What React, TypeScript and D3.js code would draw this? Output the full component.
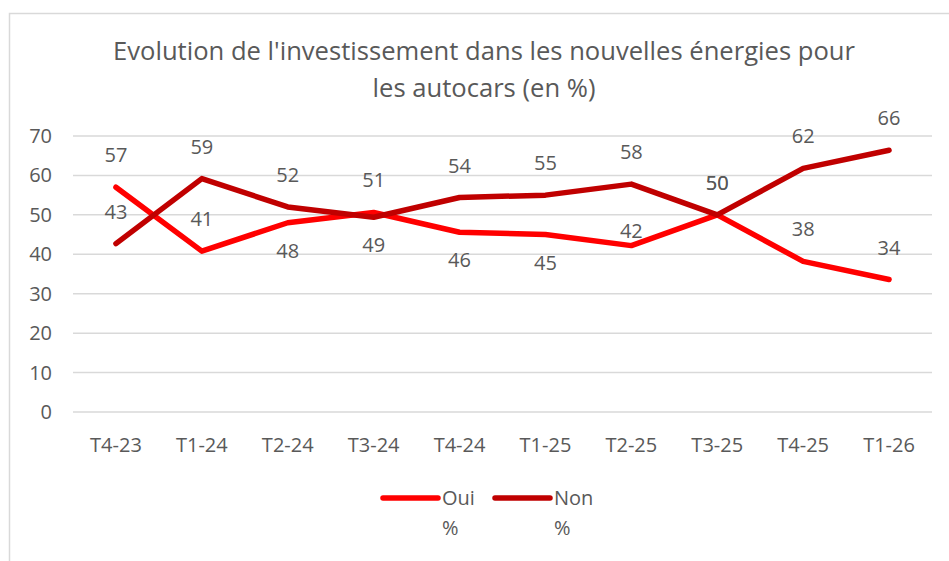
import { useEffect, useRef } from "react";
import * as d3 from "d3";

// quarters on the x axis
const quarters = ["T4-23", "T1-24", "T2-24", "T3-24", "T4-24", "T1-25", "T2-25", "T3-25", "T4-25", "T1-26"];
// series values in % (labels are rounded)
const oui = [57.0, 40.8, 48.0, 50.6, 45.6, 45.0, 42.2, 50.0, 38.2, 33.6];
const non = [42.7, 59.2, 52.0, 49.4, 54.4, 55.0, 57.8, 50.0, 61.8, 66.4];
// where each data label sits relative to its point
const ouiLabelPos = ["above", "above", "below", "above", "below", "below", "near", "above", "above", "above"];
const nonLabelPos = ["above", "above", "above", "below", "above", "above", "above", "above", "above", "above"];
const yTicks = [0, 10, 20, 30, 40, 50, 60, 70];
const titleLines = ["Evolution de l'investissement dans les nouvelles énergies pour", "les autocars (en %)"];

const FONT = "'Open Sans', sans-serif";
const TEXT = "#595959";
const GRID = "#d9d9d9";

const App = () => {
  const svgRef = useRef<SVGSVGElement | null>(null);

  useEffect(() => {
    drawChart();
  }, []);

  const drawChart = () => {
    const w = 949;
    const h = 561;
    const svg = d3.select(svgRef.current);
    svg.selectAll("*").remove();

    // chart frame (runs off the right and bottom edges)
    svg
      .append("rect")
      .attr("x", 9.5)
      .attr("y", 13.5)
      .attr("width", w)
      .attr("height", h)
      .attr("fill", "white")
      .attr("stroke", GRID)
      .attr("stroke-width", 1.5);

    // title
    svg
      .append("g")
      .selectAll("text")
      .data(titleLines)
      .join("text")
      .attr("x", 484)
      .attr("y", (d, i) => 60 + i * 37)
      .attr("text-anchor", "middle")
      .attr("font-family", FONT)
      .attr("font-size", 25.6)
      .attr("fill", TEXT)
      .text((d) => d);

    const xScale = d3.scaleBand().domain(quarters).range([73, 932]);
    const yScale = d3.scaleLinear().domain([0, 70]).range([412, 136]);
    const cx = (i: number) => (xScale(quarters[i]) as number) + xScale.bandwidth() / 2;

    // gridlines
    svg
      .append("g")
      .selectAll("line")
      .data(yTicks)
      .join("line")
      .attr("x1", 73)
      .attr("x2", 932)
      .attr("y1", (d) => yScale(d))
      .attr("y2", (d) => yScale(d))
      .attr("stroke", GRID)
      .attr("stroke-width", 1.5);

    // y axis labels
    svg
      .append("g")
      .selectAll("text")
      .data(yTicks)
      .join("text")
      .attr("x", 52)
      .attr("y", (d) => yScale(d) + 7)
      .attr("text-anchor", "end")
      .attr("font-family", FONT)
      .attr("font-size", 20)
      .attr("fill", TEXT)
      .text((d) => d);

    // x axis labels
    svg
      .append("g")
      .selectAll("text")
      .data(quarters)
      .join("text")
      .attr("x", (d, i) => cx(i))
      .attr("y", 452)
      .attr("text-anchor", "middle")
      .attr("font-family", FONT)
      .attr("font-size", 20)
      .attr("fill", TEXT)
      .text((d) => d);

    const series = [
      { name: "Oui", values: oui, pos: ouiLabelPos, color: "#ff0000" },
      { name: "Non", values: non, pos: nonLabelPos, color: "#c00000" },
    ];

    const line = d3
      .line<number>()
      .x((d, i) => cx(i))
      .y((d) => yScale(d));

    series.forEach((s) => {
      svg
        .append("path")
        .datum(s.values)
        .attr("d", line)
        .attr("fill", "none")
        .attr("stroke", s.color)
        .attr("stroke-width", 5.5)
        .attr("stroke-linecap", "round")
        .attr("stroke-linejoin", "round");
    });

    // data labels
    const fmt = d3.format(".0f");
    series.forEach((s) => {
      svg
        .append("g")
        .selectAll("text")
        .data(s.values)
        .join("text")
        .attr("x", (d, i) => cx(i))
        .attr("y", (d, i) => {
          const dy = s.pos[i] === "below" ? 28 : s.pos[i] === "near" ? -15 : -32;
          return yScale(d) + dy + 7;
        })
        .attr("text-anchor", "middle")
        .attr("font-family", FONT)
        .attr("font-size", 20)
        .attr("fill", TEXT)
        .text((d) => fmt(d));
    });

    // legend
    const legend = svg
      .append("g")
      .selectAll("g")
      .data(series)
      .join("g")
      .attr("transform", (d, i) => `translate(${383 + i * 112}, 0)`);
    legend
      .append("line")
      .attr("x1", 0)
      .attr("x2", 55)
      .attr("y1", 498)
      .attr("y2", 498)
      .attr("stroke", (d) => d.color)
      .attr("stroke-width", 5.5)
      .attr("stroke-linecap", "round");
    legend
      .append("text")
      .attr("x", 59)
      .attr("y", 505)
      .attr("font-family", FONT)
      .attr("font-size", 20)
      .attr("fill", TEXT)
      .text((d) => d.name);
    legend
      .append("text")
      .attr("x", 59)
      .attr("y", 535)
      .attr("font-family", FONT)
      .attr("font-size", 20)
      .attr("fill", TEXT)
      .text("%");
  };

  return (
    <svg
      ref={svgRef}
      width={949}
      height={561}
      style={{ position: "fixed", left: 0, top: 0, background: "white" }}
    ></svg>
  );
};

export default App;
